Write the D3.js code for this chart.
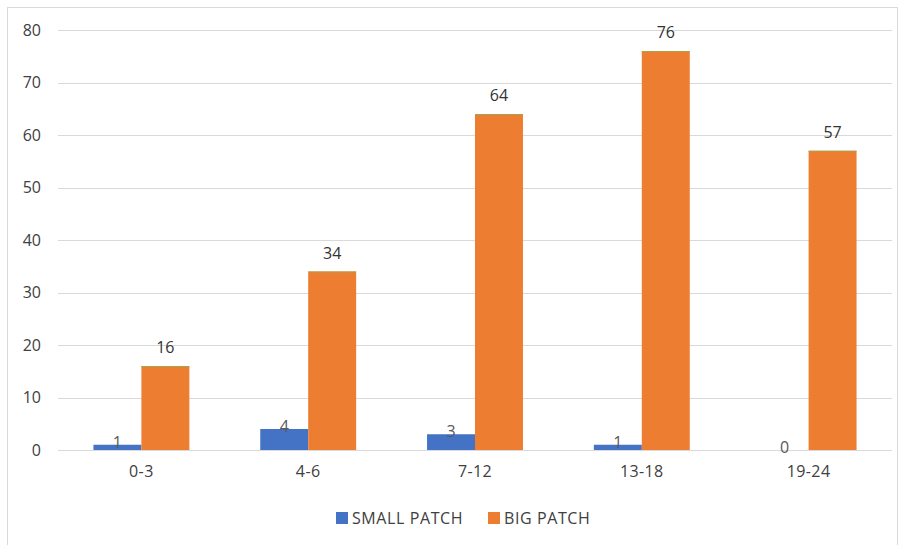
<!DOCTYPE html>
<html><head><meta charset="utf-8">
<script src="https://cdn.jsdelivr.net/npm/d3@7"></script>
<style>body{margin:0;background:#fff}svg{display:block;font-family:"Open Sans","Liberation Sans",sans-serif}</style>
</head><body>
<svg id="c" width="900" height="545"></svg>
<script>
const categories = ["0-3","4-6","7-12","13-18","19-24"];
const seriesNames = ["SMALL PATCH","BIG PATCH"];
const smallPatch = [1,4,3,1,0];
const bigPatch = [16,34,64,76,57];
const yTicks = [0,10,20,30,40,50,60,70,80];
const colors = ["#4472C4","#ED7D31"];

const svg = d3.select("#c");
const m = {left:58, right:892, top:30, bottom:450};
svg.append("rect").attr("x",7.5).attr("y",7.5).attr("width",890).attr("height",545).attr("fill","none").attr("stroke","#d9d9d9");

const y = d3.scaleLinear().domain([0,80]).range([m.bottom,m.top]);
const x0 = d3.scaleBand().domain(categories).range([m.left,m.right]).paddingInner(0.425).paddingOuter(0.2125);
const x1 = d3.scaleBand().domain(seriesNames).range([0,x0.bandwidth()]);

svg.append("g").selectAll("line").data(yTicks).join("line")
  .attr("x1",m.left).attr("x2",m.right)
  .attr("y1",d=>Math.round(y(d))+0.5).attr("y2",d=>Math.round(y(d))+0.5)
  .attr("stroke","#d9d9d9").attr("stroke-width",1);

const yAxis = d3.axisLeft(y).tickValues(yTicks).tickSize(0).tickPadding(0);
const ga = svg.append("g").attr("transform","translate(41,0)").call(yAxis);
ga.select(".domain").remove();
ga.selectAll("text").attr("font-size",16).attr("fill","#404040").attr("font-family","Open Sans, sans-serif");

const xAxis = d3.axisBottom(x0).tickSize(0).tickPadding(0);
const gx = svg.append("g").attr("transform","translate(0,466)").call(xAxis);
gx.select(".domain").remove();
gx.selectAll("text").attr("font-size",16).attr("fill","#404040").attr("font-family","Open Sans, sans-serif").attr("letter-spacing",0.4);

const data = categories.map((c,i)=>({cat:c, vals:[smallPatch[i],bigPatch[i]]}));
const groups = svg.append("g").selectAll("g").data(data).join("g")
  .attr("transform",d=>`translate(${x0(d.cat)},0)`);
groups.selectAll("rect").data(d=>d.vals.map((v,j)=>({v,j}))).join("rect")
  .attr("x",d=>x1(seriesNames[d.j])).attr("width",x1.bandwidth())
  .attr("y",d=>y(d.v)).attr("height",d=>y(0)-y(d.v))
  .attr("fill",d=>colors[d.j]);
groups.selectAll("line.top").data(d=>d.vals.map((v,j)=>({v,j})).filter(e=>e.j===1)).join("line")
  .attr("x1",d=>x1(seriesNames[d.j])).attr("x2",d=>x1(seriesNames[d.j])+x1.bandwidth())
  .attr("y1",d=>y(d.v)+0.5).attr("y2",d=>y(d.v)+0.5).attr("stroke","#a9a24e").attr("stroke-width",1);
groups.selectAll("text").data(d=>d.vals.map((v,j)=>({v,j}))).join("text")
  .attr("x",d=>x1(seriesNames[d.j])+x1.bandwidth()/2)
  .attr("y",d=>d.j===1 ? y(d.v)-13 : y(d.v)+3)
  .attr("text-anchor","middle").attr("font-size",16)
  .attr("fill",d=>d.j===1?"#333333":"#595959")
  .text(d=>d.v);

const leg = svg.append("g");
const legX = [336,488];
seriesNames.forEach((s,i)=>{
  leg.append("rect").attr("x",legX[i]).attr("y",512).attr("width",12).attr("height",12).attr("fill",colors[i]);
  leg.append("text").attr("x",legX[i]+16).attr("y",524).attr("font-size",16).attr("letter-spacing",0.6).attr("fill","#404040").text(s);
});
</script>
</body></html>
